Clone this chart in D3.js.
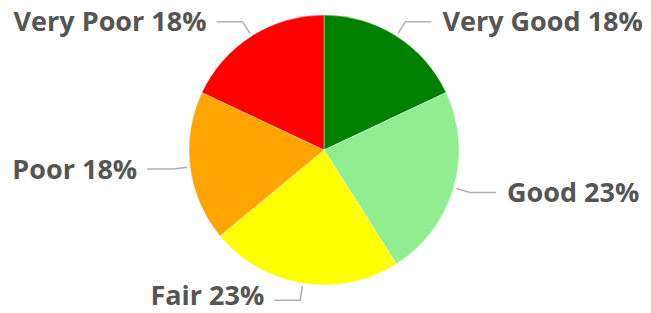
<!DOCTYPE html>
<html><head><meta charset="utf-8">
<script src="https://cdn.jsdelivr.net/npm/d3@7"></script>
<style>html,body{margin:0;padding:0;background:#fff;}svg{display:block;}</style>
</head><body>
<svg id="c" width="651" height="313"></svg>
<script>
const categories = ["Very Good", "Good", "Fair", "Poor", "Very Poor"];
const values = [18, 23, 23, 18, 18];
const colors = ["#008000", "#90EE90", "#FFFF00", "#FFA500", "#FF0000"];

const W = 651, H = 313, cx = 324, cy = 150, R = 135;
const svg = d3.select("#c");
const g = svg.append("g").attr("transform", `translate(${cx},${cy})`);
const data = categories.map((c, i) => ({ name: c, value: values[i], color: colors[i] }));
const pie = d3.pie().value(d => d.value).sort(null);
const arcs = pie(data);
const arc = d3.arc().innerRadius(0).outerRadius(R);
const total = d3.sum(values);

g.selectAll("path.slice").data(arcs).join("path")
  .attr("class", "slice")
  .attr("d", arc)
  .attr("fill", d => d.data.color)
  .attr("stroke", "#fff").attr("stroke-width", 0.4);

const pt = (a, r) => [Math.sin(a) * r, -Math.cos(a) * r];
arcs.forEach(d => {
  const a = (d.startAngle + d.endAngle) / 2;
  const p0 = pt(a, R + 3), p1 = pt(a, R + 17);
  const right = Math.sin(a) > 0;
  const p2 = [p1[0] + (right ? 26 : -26), p1[1]];
  g.append("path")
    .attr("d", d3.line()([p0, p1, p2]))
    .attr("fill", "none").attr("stroke", "#b0b0b0").attr("stroke-width", 1.5);
  const t = g.append("text")
    .attr("x", p2[0] + (right ? 11 : -10))
    .attr("y", p1[1])
    .attr("dy", "0.36em")
    .attr("text-anchor", right ? "start" : "end")
    .attr("font-family", "'Open Sans', 'Noto Sans', sans-serif")
    .attr("font-weight", "bold")
    .attr("font-size", 27)
    .attr("fill", "#555")
    .text(`${d.data.name} ${Math.round(d.data.value / total * 100)}%`);
  const bb = t.node().getBBox();
  const over = cy + bb.y + bb.height - H;
  if (over > 0) t.attr("y", p1[1] - over);
});
</script>
</body></html>
